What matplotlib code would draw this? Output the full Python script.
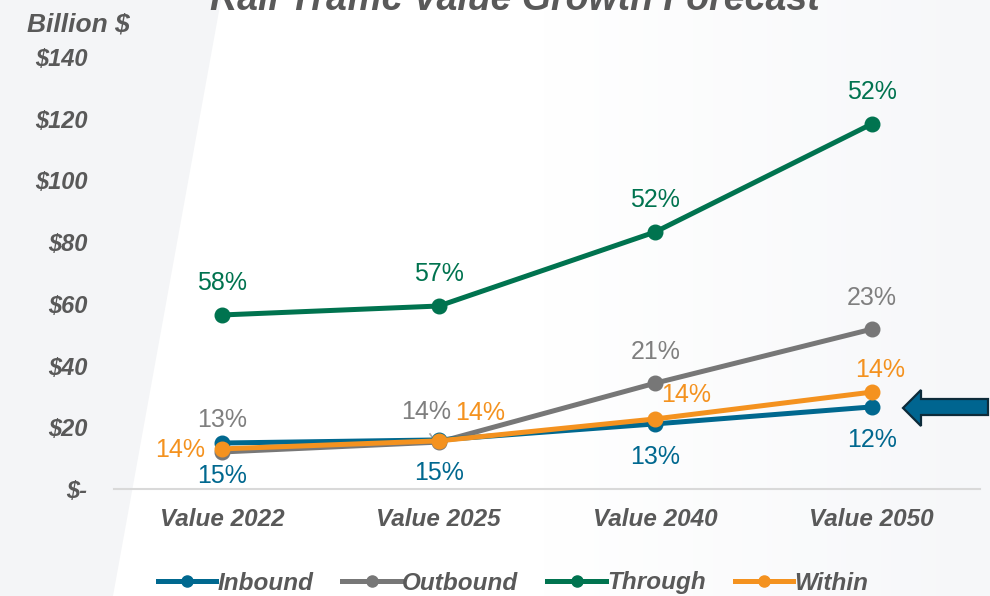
import numpy as np
import matplotlib.pyplot as plt
from matplotlib.patches import Polygon
from matplotlib.lines import Line2D

# data (billion $)
categories = ["Value 2022", "Value 2025", "Value 2040", "Value 2050"]
inbound = [14.9, 15.9, 21.1, 26.6]
outbound = [12.0, 15.2, 34.3, 51.8]
through = [56.4, 59.3, 83.3, 118.3]
within = [13.0, 15.6, 22.7, 31.4]

inbound_lbl = ["15%", "15%", "13%", "12%"]
outbound_lbl = ["13%", "14%", "21%", "23%"]
through_lbl = ["58%", "57%", "52%", "52%"]
within_lbl = ["14%", "14%", "14%", "14%"]

yticks = [0, 20, 40, 60, 80, 100, 120, 140]
ytick_labels = ["$-", "$20", "$40", "$60", "$80", "$100", "$120", "$140"]

c_in = "#00688f"
c_out = "#777777"
c_thr = "#00734f"
c_wi = "#f4921f"
txt = "#595959"

plt.rcParams["font.family"] = ["Liberation Sans", "DejaVu Sans"]

W, H = 990, 596
fig = plt.figure(figsize=(W / 100, H / 100), dpi=100)
fig.patch.set_facecolor("white")

# background: soft gradient + slanted panel on the left
bg = fig.add_axes([0, 0, 1, 1], zorder=-10)
bg.set_xlim(0, W)
bg.set_ylim(H, 0)
bg.axis("off")
xs = np.linspace(0, 1, 200)
shade = np.clip((xs - 0.55) / 0.45, 0, 1)
col = np.ones((1, 200, 3))
col[0, :, 0] = 1 - shade * (1 - 0.965)
col[0, :, 1] = 1 - shade * (1 - 0.969)
col[0, :, 2] = 1 - shade * (1 - 0.977)
bg.imshow(col, extent=[0, W, H, 0], aspect="auto")
bg.add_patch(Polygon([[0, 0], [221, 0], [113, H], [0, H]], closed=True,
                     facecolor="#f4f5f7", edgecolor="none"))

ax = fig.add_axes([114 / W, 1 - 489 / H, (980 - 114) / W, (489 - 57) / H])
ax.set_facecolor("none")
x = np.arange(len(categories))

lw = 3.6
ms = 10.5
ax.plot(x, through, color=c_thr, lw=lw, marker="o", ms=ms, zorder=3)
ax.plot(x, outbound, color=c_out, lw=lw, marker="o", ms=ms, zorder=3)
ax.plot(x, inbound, color=c_in, lw=lw, marker="o", ms=ms, zorder=4)
ax.plot(x, within, color=c_wi, lw=lw, marker="o", ms=ms, zorder=5)

ax.set_xlim(-0.5, len(categories) - 0.5)
ax.set_ylim(0, 140)
ax.set_yticks(yticks)
ax.set_yticklabels(ytick_labels)
ax.set_xticks(x)
ax.set_xticklabels(categories)
for s in ["top", "right", "left"]:
    ax.spines[s].set_visible(False)
ax.spines["bottom"].set_color("#d9d9d9")
ax.spines["bottom"].set_linewidth(1.5)
ax.tick_params(axis="y", length=0, labelsize=17, labelcolor=txt, pad=19)
ax.tick_params(axis="x", length=0, labelsize=17.5, labelcolor=txt, pad=14)
for t in ax.get_xticklabels() + ax.get_yticklabels():
    t.set_fontweight("bold")
    t.set_fontstyle("italic")

def labels(vals, texts, offs, color):
    for xi, v, t, (dx, dy) in zip(x, vals, texts, offs):
        ax.annotate(t, (xi, v), xytext=(dx * 0.72, -dy * 0.72), textcoords="offset points",
                    ha="center", va="center", fontsize=18, color=color, zorder=6)

labels(through, through_lbl, [(0, -32)] * 4, c_thr)
labels(outbound, outbound_lbl, [(0, -32), (-13, -30), (0, -31), (0, -31)], "#7f7f7f")
labels(within, within_lbl, [(-42, 1), (41, -28), (31, -24), (8, -22)], c_wi)
labels(inbound, inbound_lbl, [(0, 33)] * 4, c_in)

# small leader line for outbound 2025 label
bg.plot([430, 437], [434, 444], color="#a6a6a6", lw=1.2)

# title and axis caption
fig.text(515 / W, 1 - 10 / H, "Rail Traffic Value Growth Forecast", ha="center", va="baseline",
         fontsize=27, fontweight="bold", fontstyle="italic", color=txt)
fig.text(27 / W, 1 - 31 / H, "Billion $", ha="left", va="baseline",
         fontsize=19, fontweight="bold", fontstyle="italic", color=txt)

# arrow pointing at inbound 2050
arrow = Polygon([[903, 408], [921, 390], [921, 399], [988, 399], [988, 415], [921, 415], [921, 426]],
                closed=True, facecolor="#006590", edgecolor="#0d2b3a", lw=1.6)
bg.add_patch(arrow)

handles = [Line2D([], [], color=c, lw=lw, marker="o", ms=8) for c in [c_in, c_out, c_thr, c_wi]]
leg = fig.legend(handles, ["Inbound", "Outbound", "Through", "Within"], loc="center",
                 bbox_to_anchor=(513 / W, 1 - 583 / H), ncol=4, frameon=False,
                 handlelength=2.4, handletextpad=0.05, columnspacing=1.2,
                 prop={"size": 17.5, "weight": "bold", "style": "italic"})
for t in leg.get_texts():
    t.set_color(txt)

fig.savefig("out.png", dpi=100)
